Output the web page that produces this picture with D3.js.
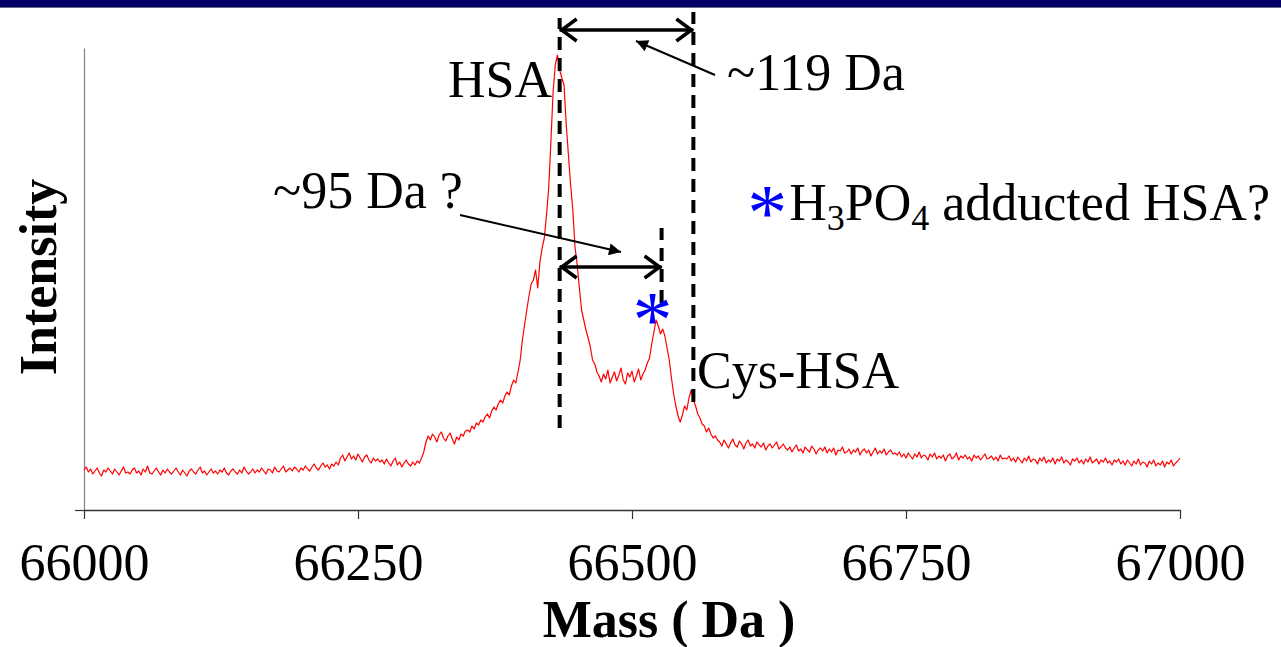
<!DOCTYPE html>
<html>
<head>
<meta charset="utf-8">
<script src="https://cdn.jsdelivr.net/npm/d3@7"></script>
<style>
  html, body { margin: 0; padding: 0; background: #fff; }
  svg { display: block; }
  text { font-family: "Liberation Serif", "Times New Roman", Times, serif; fill: #000; }
</style>
</head>
<body>
<svg id="chart" width="1281" height="647"></svg>
<script>
// Deconvoluted mass spectrum of HSA, sampled every 2 Da from 66000 to 67000 Da
const massStart = 66000;
const massStep = 2;
const intensity = [
  // 66000 - 66228
  40,43,38,41,36,39,42,37,34,40,38,42,39,36,41,38,35,39,43,37,
  38,36,40,42,37,39,35,41,38,44,37,36,39,42,38,35,40,37,41,38,
  36,39,42,38,35,40,37,34,39,41,38,36,40,43,37,39,35,38,41,37,
  39,36,40,38,42,37,35,39,41,38,36,40,37,43,39,36,38,41,37,40,
  38,42,39,36,41,40,37,43,39,38,41,44,38,40,42,39,43,41,38,42,
  40,44,41,39,43,46,42,40,44,47,43,45,41,46,44,
  // 66230 - 66308
  48,45,52,55,49,53,57,51,54,50,56,52,48,53,55,50,47,52,49,51,
  48,50,46,51,47,44,49,52,45,48,43,47,50,46,44,48,45,49,47,52,
  // 66310 - 66348
  58,68,74,70,76,73,68,75,78,72,69,74,77,71,66,73,70,76,74,79,
  // 66350 - 66398
  80,78,84,81,87,85,90,88,93,96,92,99,103,100,106,110,107,114,118,115,124,130,127,138,150,
  // 66400 - 66470 (HSA)
  170,185,200,214,226,230,240,222,248,262,272,295,322,368,418,445,455,440,432,425,
  385,355,325,300,263,245,222,200,190,180,172,163,150,146,138,134,
  // 66472 - 66510
  128,136,131,140,127,133,138,129,135,142,130,126,137,133,139,128,134,141,130,136,
  // 66512 - 66578 (adduct and Cys-HSA)
  140,147,152,166,178,190,184,176,181,174,162,150,132,116,104,94,88,95,104,100,
  112,120,110,104,96,92,86,84,78,82,76,72,74,70,
  // 66580 - 66640
  68,64,70,66,62,67,71,65,63,69,66,61,67,70,64,66,62,68,65,63,67,60,64,66,62,65,68,61,63,66,62,
  // 66642 - 66740
  60,63,58,62,65,59,61,57,63,60,58,64,61,56,60,62,59,63,57,61,
  58,62,55,60,59,63,57,58,61,56,60,58,62,55,59,61,57,60,54,58,
  62,56,59,57,61,55,58,60,56,57,
  // 66742 - 66840
  55,58,53,56,52,57,54,51,56,53,58,52,55,54,50,56,53,57,51,54,
  52,55,49,54,56,51,53,57,50,54,52,55,51,53,49,55,52,54,50,53,
  56,51,52,54,50,53,49,55,51,52,
  // 66842 - 66940
  51,54,49,52,48,53,50,47,52,49,54,48,51,50,46,52,49,53,47,50,
  48,52,46,51,49,53,47,50,48,45,51,49,52,47,50,46,51,48,53,47,
  49,51,46,50,48,52,47,49,45,50,
  // 66942 - 67000
  48,51,46,49,45,50,47,44,49,46,51,45,48,47,43,49,46,50,44,47,
  45,49,43,48,46,50,44,47,49,52
];

const massTicks = [66000, 66250, 66500, 66750, 67000];

// Marked peaks (Da): HSA, the starred adduct peak, Cys-HSA
const peakMasses = [66434, 66527, 66556];

const svg = d3.select("#chart");

// Slide header band
svg.append("rect").attr("x", 0).attr("y", 0).attr("width", 1281).attr("height", 7).attr("fill", "#000066");
svg.append("line").attr("x1", 0).attr("x2", 1281).attr("y1", 7.5).attr("y2", 7.5)
  .attr("stroke", "#6d6d80").attr("stroke-width", 1);

const x = d3.scaleLinear().domain([66000, 67000]).range([84, 1180]);
const y = d3.scaleLinear().domain([0, 462]).range([510, 48]);

const points = intensity.map((v, i) => [massStart + i * massStep, v]);

// Axes
const yAxis = svg.append("g").attr("transform", "translate(84,0)")
  .call(d3.axisLeft(y).tickValues([0]).tickSize(9).tickSizeOuter(0).tickFormat(""));
yAxis.select(".domain").attr("stroke", "#808080").attr("stroke-width", 1.2);
yAxis.selectAll(".tick line").attr("stroke", "#333").attr("stroke-width", 1.2);

const xAxis = svg.append("g").attr("transform", "translate(0,510)")
  .call(d3.axisBottom(x).tickValues(massTicks).tickSize(9).tickSizeOuter(0).tickFormat(d3.format("d")));
xAxis.select(".domain").attr("stroke", "#333").attr("stroke-width", 1.6);
xAxis.selectAll(".tick line").attr("stroke", "#333").attr("stroke-width", 1.2);
xAxis.selectAll(".tick text")
  .attr("font-family", "Liberation Serif, Times New Roman, serif")
  .attr("font-size", 52).attr("fill", "#000")
  .attr("y", 70).attr("dy", 0);

// Axis titles
svg.append("text").attr("x", 669).attr("y", 637).attr("text-anchor", "middle")
  .attr("font-size", 52).attr("font-weight", "bold").text("Mass ( Da )");
svg.append("text").attr("transform", "translate(56,277) rotate(-90)").attr("text-anchor", "middle")
  .attr("font-size", 52).attr("font-weight", "bold").text("Intensity");

// Spectrum trace
svg.append("path").datum(points)
  .attr("fill", "none").attr("stroke", "#ff0000").attr("stroke-width", 1.2).attr("stroke-linejoin", "round")
  .attr("d", d3.line().x(d => x(d[0])).y(d => y(d[1])));

// Dashed peak markers
const markerSpans = [[82, 492], [207, 282], [108, 498]];
peakMasses.forEach((m, i) => {
  svg.append("line")
    .attr("x1", x(m)).attr("x2", x(m))
    .attr("y1", y(markerSpans[i][0])).attr("y2", y(markerSpans[i][1]))
    .attr("stroke", "#000").attr("stroke-width", 4).attr("stroke-dasharray", "13,8");
});

// Double-headed span arrows
function spanArrow(m1, m2, level) {
  const x1 = x(m1), x2 = x(m2), yy = y(level);
  const g = svg.append("g").attr("fill", "none").attr("stroke", "#000").attr("stroke-width", 3.5);
  g.append("line").attr("x1", x1).attr("x2", x2).attr("y1", yy).attr("y2", yy);
  g.append("path").attr("d", `M${x1 + 17},${yy - 11}L${x1 + 2},${yy}L${x1 + 17},${yy + 11}`);
  g.append("path").attr("d", `M${x2 - 17},${yy - 11}L${x2 - 2},${yy}L${x2 - 17},${yy + 11}`);
}
spanArrow(peakMasses[0], peakMasses[2], 480);
spanArrow(peakMasses[0], peakMasses[1], 243);

// Pointer arrows with filled heads
svg.append("defs").append("marker")
  .attr("id", "head").attr("viewBox", "0 0 10 10").attr("refX", 10).attr("refY", 5)
  .attr("markerWidth", 16).attr("markerHeight", 12).attr("markerUnits", "userSpaceOnUse")
  .attr("orient", "auto")
  .append("path").attr("d", "M0,0L10,5L0,10Z").attr("fill", "#000");

svg.append("line").attr("x1", 715).attr("y1", 75).attr("x2", 636).attr("y2", 41)
  .attr("stroke", "#000").attr("stroke-width", 2).attr("marker-end", "url(#head)");
svg.append("line").attr("x1", 460).attr("y1", 215).attr("x2", 621).attr("y2", 252)
  .attr("stroke", "#000").attr("stroke-width", 2).attr("marker-end", "url(#head)");

// Labels
svg.append("text").attr("x", 552).attr("y", 97).attr("text-anchor", "end").attr("font-size", 52).text("HSA");
svg.append("text").attr("x", 727).attr("y", 90).attr("font-size", 52).text("~119 Da");
svg.append("text").attr("x", 273).attr("y", 208).attr("font-size", 52).text("~95 Da ?");
svg.append("text").attr("x", 697).attr("y", 388).attr("font-size", 52).text("Cys-HSA");

// Star on the adduct peak
svg.append("text").attr("x", x(peakMasses[1]) - 9).attr("y", 347).attr("text-anchor", "middle")
  .attr("font-size", 80).style("fill", "#0000ff").text("*");

// Key for the star, right-aligned to the slide edge
const key = svg.append("text").attr("x", 1270).attr("y", 220).attr("text-anchor", "end").attr("font-size", 52);
key.append("tspan").text("H");
key.append("tspan").attr("font-size", 36).attr("dy", 10).text("3");
key.append("tspan").attr("dy", -10).text("PO");
key.append("tspan").attr("font-size", 36).attr("dy", 10).text("4");
key.append("tspan").attr("dy", -10).text(" adducted HSA?");
const keyStart = key.node().getBBox().x;
svg.append("text").attr("x", keyStart - 22).attr("y", 240).attr("text-anchor", "middle")
  .attr("font-size", 80).style("fill", "#0000ff").text("*");
</script>
</body>
</html>
